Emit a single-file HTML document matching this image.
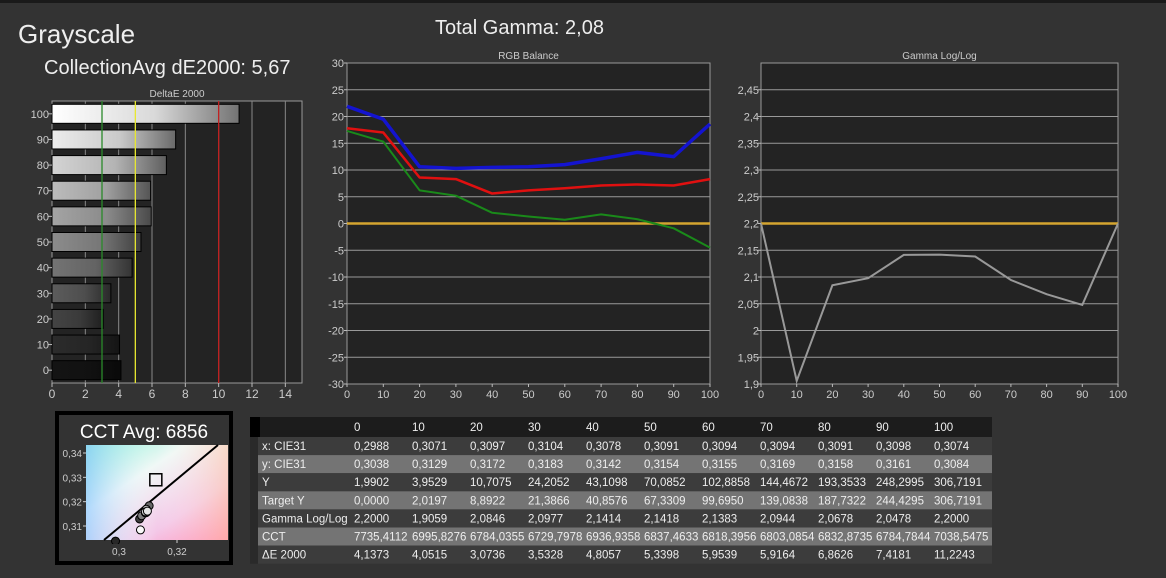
<!DOCTYPE html>
<html><head><meta charset="utf-8">
<style>
body{margin:0;background:#333;width:1166px;height:573px;overflow:hidden;font-family:"Liberation Sans",sans-serif}
svg text{font-family:"Liberation Sans",sans-serif}
</style></head><body>
<svg id="s" width="1166" height="573" xmlns="http://www.w3.org/2000/svg">
<defs>
<linearGradient id="cie" x1="0" y1="0" x2="1" y2="1">
<stop offset="0" stop-color="#80f0d0"/><stop offset="0.35" stop-color="#f0f8f6"/><stop offset="0.7" stop-color="#f4c8e8"/><stop offset="1" stop-color="#ff80b0"/>
</linearGradient>
<linearGradient id="cie2" x1="0" y1="0" x2="1" y2="0">
<stop offset="0" stop-color="#90c8ff" stop-opacity="0.7"/><stop offset="0.5" stop-color="#fff" stop-opacity="0"/><stop offset="1" stop-color="#ffd0a0" stop-opacity="0.5"/>
</linearGradient>
</defs>
<rect x="0" y="0" width="1166" height="3" fill="#1a1a1a"/>
<text x="18" y="43" font-size="26" fill="#eee">Grayscale</text>
<text x="44" y="74" font-size="20" fill="#eee">CollectionAvg dE2000: 5,67</text>
<text x="435" y="34" font-size="20" fill="#eee">Total Gamma: 2,08</text>
<g id="de"></g>
<g id="rgb"></g>
<g id="gam"></g>
<g id="cct"></g>
<g id="tbl"></g>
</svg>
<script>
const levels=[0,10,20,30,40,50,60,70,80,90,100];
const deltaE=[4.1373,4.0515,3.0736,3.5328,4.8057,5.3398,5.9539,5.9164,6.8626,7.4181,11.2243];
const redBal=[17.8,17.0,8.6,8.3,5.6,6.2,6.6,7.1,7.3,7.1,8.3];
const greenBal=[17.3,15.3,6.2,5.2,2.0,1.3,0.7,1.7,0.8,-0.9,-4.5];
const blueBal=[21.9,19.5,10.6,10.3,10.5,10.6,11.0,12.1,13.3,12.5,18.6];
const gammaVals=[2.2,1.9059,2.0846,2.0977,2.1414,2.1418,2.1383,2.0944,2.0678,2.0478,2.2];
const cieX=[0.2988,0.3071,0.3097,0.3104,0.3078,0.3091,0.3094,0.3094,0.3091,0.3098,0.3074];
const cieY=[0.3038,0.3129,0.3172,0.3183,0.3142,0.3154,0.3155,0.3169,0.3158,0.3161,0.3084];
const deTicks=[0,2,4,6,8,10,12,14];
const rgbTicks=[30,25,20,15,10,5,0,-5,-10,-15,-20,-25,-30];
const gamTicks=["1,9","1,95","2","2,05","2,1","2,15","2,2","2,25","2,3","2,35","2,4","2,45"];
const tableRows=[
["x: CIE31","0,2988","0,3071","0,3097","0,3104","0,3078","0,3091","0,3094","0,3094","0,3091","0,3098","0,3074"],
["y: CIE31","0,3038","0,3129","0,3172","0,3183","0,3142","0,3154","0,3155","0,3169","0,3158","0,3161","0,3084"],
["Y","1,9902","3,9529","10,7075","24,2052","43,1098","70,0852","102,8858","144,4672","193,3533","248,2995","306,7191"],
["Target Y","0,0000","2,0197","8,8922","21,3866","40,8576","67,3309","99,6950","139,0838","187,7322","244,4295","306,7191"],
["Gamma Log/Log","2,2000","1,9059","2,0846","2,0977","2,1414","2,1418","2,1383","2,0944","2,0678","2,0478","2,2000"],
["CCT","7735,4112","6995,8276","6784,0355","6729,7978","6936,9358","6837,4633","6818,3956","6803,0854","6832,8735","6784,7844","7038,5475"],
["ΔE 2000","4,1373","4,0515","3,0736","3,5328","4,8057","5,3398","5,9539","5,9164","6,8626","7,4181","11,2243"]];
const NS="http://www.w3.org/2000/svg";
function mk(p,t,a,txt){const e=document.createElementNS(NS,t);for(const k in a)e.setAttribute(k,a[k]);if(txt!==undefined)e.textContent=txt;p.appendChild(e);return e;}
// DeltaE chart
(function(){
const g=document.getElementById('de');const L=52,R=302,T=101,B=383;
const xs=v=>L+(v/15)*(R-L);const band=(B-T)/11;
mk(g,'rect',{x:L,y:T,width:R-L,height:B-T,fill:'#232323',stroke:'#999'});
let t=mk(g,'text',{x:(L+R)/2,y:97,'font-size':10,fill:'#ccc','text-anchor':'middle'},'DeltaE 2000');

deTicks.forEach(v=>{ if(v>0){const l=mk(g,'line',{x1:xs(v),x2:xs(v),y1:T,y2:B,stroke:'#888','stroke-width':1});}
 mk(g,'line',{x1:xs(v),x2:xs(v),y1:B,y2:B+4,stroke:'#bbb'});
 const tx=mk(g,'text',{x:xs(v),y:B+15,'font-size':12,fill:'#ccc','text-anchor':'middle'},String(v));
 });
const defs=document.querySelector('defs');
levels.forEach((lv,i)=>{
 const cy=B-band*(i+0.5);
 const base=Math.min(255,Math.round(20+lv*2.4)), end=Math.round(base*0.45);
 const gid='bg'+i;const lg=mk(defs,'linearGradient',{id:gid,x1:0,y1:0,x2:1,y2:0});
 mk(lg,'stop',{offset:0,'stop-color':`rgb(${base},${base},${base})`});
 mk(lg,'stop',{offset:0.55,'stop-color':`rgb(${Math.round(base*0.85)},${Math.round(base*0.85)},${Math.round(base*0.85)})`});
 mk(lg,'stop',{offset:1,'stop-color':`rgb(${end},${end},${end})`});
 const r=mk(g,'rect',{x:L,y:cy-9.5,width:xs(deltaE[i])-L,height:19,fill:`url(#${gid})`,stroke:'#000','stroke-width':1});
 
 mk(g,'line',{x1:L-4,x2:L,y1:cy,y2:cy,stroke:'#bbb'});
 const tx=mk(g,'text',{x:L-3,y:cy+4,'font-size':11,fill:'#ccc','text-anchor':'end'},String(lv));
 
});
[[3,'#2a8a2a'],[5,'#e8e830'],[10,'#c02020']].forEach(([v,c])=>{const l=mk(g,'line',{x1:xs(v),x2:xs(v),y1:T,y2:B,stroke:c,'stroke-width':1.3});});
})();
// RGB balance
(function(){
const g=document.getElementById('rgb');const L=347,R=710,T=63,B=384;
const xs=v=>L+v/100*(R-L), ys=v=>B-(v+30)/60*(B-T);
mk(g,'rect',{x:L,y:T,width:R-L,height:B-T,fill:'#232323',stroke:'#999'});
const t=mk(g,'text',{x:(L+R)/2,y:59,'font-size':10,fill:'#ccc','text-anchor':'middle'},'RGB Balance');

rgbTicks.forEach(v=>{const l=mk(g,'line',{x1:L,x2:R,y1:ys(v),y2:ys(v),stroke:'#999'});
 mk(g,'line',{x1:L-3,x2:L,y1:ys(v),y2:ys(v),stroke:'#bbb'});
 const tx=mk(g,'text',{x:L-3,y:ys(v)+4,'font-size':11,fill:'#ccc','text-anchor':'end'},String(v));});
levels.forEach(v=>{mk(g,'line',{x1:xs(v),x2:xs(v),y1:B,y2:B+3,stroke:'#bbb'});const tx=mk(g,'text',{x:xs(v),y:B+14,'font-size':11,fill:'#ccc','text-anchor':'middle'},String(v));});
const ref=mk(g,'line',{x1:L,x2:R,y1:ys(0),y2:ys(0),stroke:'#d4a530','stroke-width':2.5});
[[greenBal,'#1a8a1a',2,'green'],[redBal,'#e01010',2.5,'red'],[blueBal,'#1414d0',3.5,'blue']].forEach(([arr,c,w,n])=>{
 const p=mk(g,'polyline',{points:arr.map((v,i)=>xs(levels[i])+','+ys(v)).join(' '),fill:'none',stroke:c,'stroke-width':w,'stroke-linejoin':'round'});
 });
})();
// Gamma
(function(){
const g=document.getElementById('gam');const L=761,R=1118,T=63,B=384;
const xs=v=>L+v/100*(R-L), ys=v=>B-(v-1.9)/0.6*(B-T);
mk(g,'rect',{x:L,y:T,width:R-L,height:B-T,fill:'#232323',stroke:'#999'});
const t=mk(g,'text',{x:(L+R)/2,y:59,'font-size':10,fill:'#ccc','text-anchor':'middle'},'Gamma Log/Log');

gamTicks.forEach(s=>{const v=parseFloat(s.replace(',','.'));const l=mk(g,'line',{x1:L,x2:R,y1:ys(v),y2:ys(v),stroke:'#999'});
 mk(g,'line',{x1:L-3,x2:L,y1:ys(v),y2:ys(v),stroke:'#bbb'});
 const tx=mk(g,'text',{x:L-2,y:ys(v)+4,'font-size':11,fill:'#ccc','text-anchor':'end'},s);});
levels.forEach(v=>{mk(g,'line',{x1:xs(v),x2:xs(v),y1:B,y2:B+3,stroke:'#bbb'});const tx=mk(g,'text',{x:xs(v),y:B+14,'font-size':11,fill:'#ccc','text-anchor':'middle'},String(v));});
const ref=mk(g,'line',{x1:L,x2:R,y1:ys(2.2),y2:ys(2.2),stroke:'#d4a530','stroke-width':2.5});
const p=mk(g,'polyline',{points:gammaVals.map((v,i)=>xs(levels[i])+','+ys(v)).join(' '),fill:'none',stroke:'#999','stroke-width':2});

})();
// CCT
(function(){
const g=document.getElementById('cct');
mk(g,'rect',{x:57,y:413,width:174,height:150,fill:'#333',stroke:'#000','stroke-width':4});
const t=mk(g,'text',{x:144,y:438,'font-size':19,fill:'#fff','text-anchor':'middle'},'CCT Avg: 6856');
const L=86,R=228,T=445,B=540;
const xs=v=>119+(v-0.30)*2900, ys=v=>526-(v-0.31)*2433;
const bg=mk(g,'rect',{x:L,y:T,width:R-L,height:B-T,fill:'url(#cie)'});
mk(g,'rect',{x:L,y:T,width:R-L,height:B-T,fill:'url(#cie2)'});
[0.34,0.33,0.32,0.31].forEach(v=>{mk(g,'line',{x1:L-3,x2:L,y1:ys(v),y2:ys(v),stroke:'#ccc'});const tx=mk(g,'text',{x:L-4,y:ys(v)+4,'font-size':10,fill:'#ccc','text-anchor':'end'},String(v).replace('.',','));});
[0.30,0.32].forEach(v=>{mk(g,'line',{x1:xs(v),x2:xs(v),y1:B,y2:B+3,stroke:'#ccc'});const tx=mk(g,'text',{x:xs(v),y:B+15,'font-size':10,fill:'#ccc','text-anchor':'middle'},v===0.3?'0,3':'0,32');});
const cl=mk(g,'line',{x1:104,y1:B,x2:218,y2:T,stroke:'#000','stroke-width':2});
const sq=mk(g,'rect',{x:xs(0.3127)-6,y:ys(0.329)-6,width:12,height:12,fill:'none',stroke:'#000','stroke-width':1.5});
const cp=mk(g,'clipPath',{id:'cc'});mk(cp,'rect',{x:L,y:T,width:R-L,height:B-T+4});
levels.forEach((lv,i)=>{const gr=Math.round(40+lv*2.1);
 const c=mk(g,'circle',{cx:xs(cieX[i]),cy:ys(cieY[i]),r:4,fill:`rgb(${gr},${gr},${gr})`,stroke:'#000','stroke-width':1,'clip-path':'url(#cc)'});
 });
})();
// Table
(function(){
const g=document.getElementById('tbl');const X0=250,X1=992,top=417,hh=20,rh=18.1;
const hdr=mk(g,'rect',{x:X0,y:top,width:X1-X0,height:hh,fill:'#1c1c1c'});
mk(g,'rect',{x:X0,y:top,width:10,height:hh,fill:'#000'});
const colX=i=>354+i*58;
levels.forEach((lv,i)=>{const tx=mk(g,'text',{x:colX(i),y:top+14,'font-size':11.5,fill:'#eee'},String(lv));});
tableRows.forEach((row,r)=>{const y=top+hh+r*rh;const light=r%2===1;
 const rr=mk(g,'rect',{x:X0+8,y:y,width:X1-X0-8,height:rh,fill:light?'#747474':'#3c3c3c'});
 mk(g,'rect',{x:X0,y:y,width:8,height:rh,fill:'#2a2a2a'});
 row.forEach((c,j)=>{const tx=mk(g,'text',{x:j===0?262:colX(j-1),y:y+13,'font-size':11.5,fill:'#eee'},c);});
});
})();
</script>
</body></html>
